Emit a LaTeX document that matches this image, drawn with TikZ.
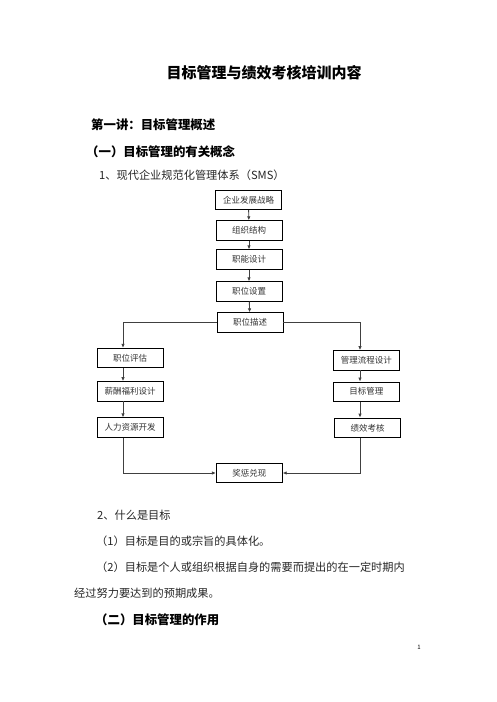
\documentclass[tikz,border=0pt]{standalone}
\usepackage{fontspec}
\setmainfont{Noto Sans CJK SC}
\usetikzlibrary{arrows.meta}

\begin{document}
\begin{tikzpicture}[x=1pt, y=-1pt]
  \def\boxwidth{66pt}
  \def\boxheight{19.5pt}
  \def\leftcol{123}
  \def\rightcol{360}
  \def\bottomrow{473}
  \tikzstyle{box} = [rectangle, draw, line width=0.8pt, inner sep = 0pt, minimum width = \boxwidth, minimum height = \boxheight, font=\fontsize{8.5}{10}\selectfont, text=black!80]
  \tikzstyle{flow} = [line width=0.9pt, draw=black!75, -{Latex[length=4pt, width=3.5pt]}]
  \tikzstyle{body} = [anchor=west, inner sep = 0pt, font=\fontsize{11.2}{13}\selectfont, text=black!85]
  \tikzstyle{head} = [anchor=west, inner sep = 0pt, font=\fontsize{12.4}{14}\selectfont\bfseries]

  \useasboundingbox (0,0) rectangle (496,702);

  % headings
  \node[inner sep = 0pt, font=\fontsize{15}{17}\selectfont\bfseries] (title) at (264, 73) {目标管理与绩效考核培训内容};
  \node[head] (lecture) at (91, 125) {第一讲：目标管理概述};
  \node[head] (concept) at (86, 152) {（一）目标管理的有关概念};
  \node[body] (sms) at (99, 175) {1、现代企业规范化管理体系（SMS）};

  % main column
  \node[box] (strategy) at (248.5, 200) {企业发展战略};
  \node[box] (structure) at (249, 230.5) {组织结构};
  \node[box] (function) at (249, 259.5) {职能设计};
  \node[box] (setup) at (249, 291.5) {职位设置};
  \node[box] (describe) at (250, 322.5) {职位描述};

  \draw[flow] (strategy) -- (structure);
  \draw[flow] (structure) -- (function);
  \draw[flow] (function) -- (setup);
  \draw[flow] (setup) -- (describe);

  % left column
  \node[box] (evaluate) at (130, 358) {职位评估};
  \node[box] (salary) at (130, 391.3) {薪酬福利设计};
  \node[box] (hr) at (130, 427.5) {人力资源开发};

  % right column
  \node[box] (process) at (366.3, 360.3) {管理流程设计};
  \node[box] (objective) at (366.3, 391.7) {目标管理};
  \node[box] (appraisal) at (367.7, 427.8) {绩效考核};

  \node[box] (reward) at (249.3, \bottomrow) {奖惩兑现};

  \coordinate (lx) at (\leftcol, 0);
  \coordinate (rx) at (\rightcol, 0);

  \draw[flow] (describe.west) -| (evaluate.north -| lx);
  \draw[flow] (describe.east) -| (process.north -| rx);
  \draw[flow] (evaluate.south -| lx) -- (salary.north -| lx);
  \draw[flow] (salary.south -| lx) -- (hr.north -| lx);
  \draw[flow] (process.south -| rx) -- (objective.north -| rx);
  \draw[flow] (objective.south -| rx) -- (appraisal.north -| rx);
  \draw[flow] (hr.south -| lx) |- (reward.west);
  \draw[flow] (appraisal.south -| rx) |- (reward.east);

  % text below
  \node[body] (what) at (97, 515) {2、什么是目标};
  \node[body] (def1) at (96, 541) {（1）目标是目的或宗旨的具体化。};
  \node[body] (def2) at (96, 567.7) {（2）目标是个人或组织根据自身的需要而提出的在一定时期内};
  \node[body] (def2b) at (74, 593.3) {经过努力要达到的预期成果。};
  \node[head] (role) at (95, 619.3) {（二）目标管理的作用};
  \node[inner sep = 0pt, font=\fontsize{6}{7}\selectfont] (page) at (419, 647) {1};
\end{tikzpicture}
\end{document}
